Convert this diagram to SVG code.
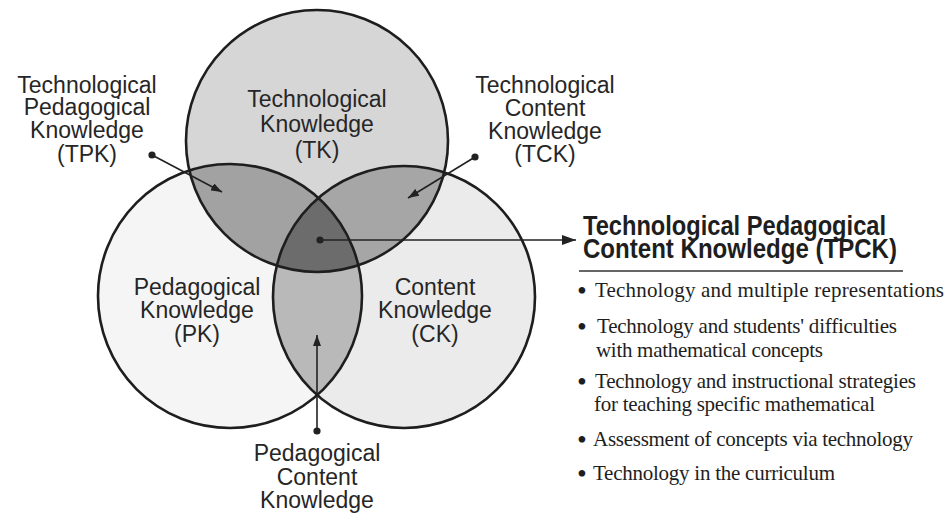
<svg xmlns="http://www.w3.org/2000/svg" width="947" height="514" viewBox="0 0 947 514">
  <style>
    .ring { fill: none; stroke: #1e1e1e; stroke-width: 2.6; }
    .lbl { font-family: "Liberation Sans", Arial, sans-serif; font-size: 23px; fill: #262626; text-anchor: middle; }
    .title { font-family: "Liberation Sans", Arial, sans-serif; font-size: 27px; font-weight: bold; fill: #1e1e1e; }
    .item { font-family: "Liberation Serif", "Times New Roman", serif; font-size: 21px; fill: #1e1e1e; }
    .bul { font-family: "Liberation Serif", "Times New Roman", serif; font-size: 28px; fill: #1e1e1e; text-anchor: middle; }
    .wire { fill: none; stroke: #222; stroke-width: 1.6; }
    .dot { fill: #222; }
  </style>
  <defs>
    <clipPath id="inTK"><circle cx="317" cy="141" r="131"/></clipPath>
    <clipPath id="inPK"><circle cx="230" cy="296" r="132"/></clipPath>
    <clipPath id="inCK"><circle cx="404" cy="297" r="131"/></clipPath>
    <marker id="head" viewBox="0 0 14 10" refX="14" refY="5" markerWidth="14" markerHeight="10" markerUnits="userSpaceOnUse" orient="auto">
      <path d="M0,0 L14,5 L0,10 Z" fill="#222"/>
    </marker>
    <marker id="headSm" viewBox="0 0 11 8" refX="11" refY="4" markerWidth="11" markerHeight="8" markerUnits="userSpaceOnUse" orient="auto">
      <path d="M0,0 L11,4 L0,8 Z" fill="#222"/>
    </marker>
  </defs>

  <rect width="947" height="514" fill="#ffffff"/>

  <!-- base discs -->
  <g id="pk-disc"><circle cx="230" cy="296" r="132" fill="#f5f5f5"/></g>
  <g id="ck-disc"><circle cx="404" cy="297" r="131" fill="#ebebeb"/></g>
  <g id="tk-disc"><circle cx="317" cy="141" r="131" fill="#d6d6d6"/></g>

  <!-- pairwise overlaps -->
  <g id="tpk-zone" clip-path="url(#inTK)"><circle cx="230" cy="296" r="132" fill="#a2a2a2"/></g>
  <g id="tck-zone" clip-path="url(#inTK)"><circle cx="404" cy="297" r="131" fill="#a6a6a6"/></g>
  <g id="pck-zone" clip-path="url(#inPK)"><circle cx="404" cy="297" r="131" fill="#b9b9b9"/></g>
  <!-- triple overlap -->
  <g id="tpck-zone" clip-path="url(#inTK)">
    <g clip-path="url(#inPK)"><circle cx="404" cy="297" r="131" fill="#6c6c6c"/></g>
  </g>

  <!-- outlines -->
  <g id="outlines">
    <circle class="ring" cx="230" cy="296" r="132"/>
    <circle class="ring" cx="404" cy="297" r="131"/>
    <circle class="ring" cx="317" cy="141" r="131"/>
  </g>

  <!-- circle labels -->
  <g id="tk">
    <text class="lbl" x="317" y="107">Technological</text>
    <text class="lbl" x="317" y="132">Knowledge</text>
    <text class="lbl" x="317" y="158">(TK)</text>
  </g>
  <g id="pk">
    <text class="lbl" x="197" y="295">Pedagogical</text>
    <text class="lbl" x="197" y="318">Knowledge</text>
    <text class="lbl" x="197" y="342">(PK)</text>
  </g>
  <g id="ck">
    <text class="lbl" x="435" y="295">Content</text>
    <text class="lbl" x="435" y="318">Knowledge</text>
    <text class="lbl" x="435" y="342">(CK)</text>
  </g>

  <!-- overlap labels -->
  <g id="tpk">
    <text class="lbl" x="87" y="93">Technological</text>
    <text class="lbl" x="87" y="115">Pedagogical</text>
    <text class="lbl" x="87" y="138">Knowledge</text>
    <text class="lbl" x="87" y="162">(TPK)</text>
  </g>
  <g id="tck">
    <text class="lbl" x="545" y="93">Technological</text>
    <text class="lbl" x="545" y="116">Content</text>
    <text class="lbl" x="545" y="139">Knowledge</text>
    <text class="lbl" x="545" y="162">(TCK)</text>
  </g>
  <g id="pck">
    <text class="lbl" x="317" y="461">Pedagogical</text>
    <text class="lbl" x="317" y="485">Content</text>
    <text class="lbl" x="317" y="508">Knowledge</text>
  </g>

  <!-- TPCK panel -->
  <g id="tpck">
    <text class="title" x="583" y="235" textLength="303" lengthAdjust="spacingAndGlyphs">Technological Pedagogical</text>
    <text class="title" x="583" y="258" textLength="314" lengthAdjust="spacingAndGlyphs">Content Knowledge (TPCK)</text>
    <line x1="579" y1="271" x2="903" y2="271" stroke="#333" stroke-width="1.6"/>
    <text class="bul" x="582" y="300">•</text>
    <text class="item" x="595" y="297" textLength="349">Technology and multiple representations</text>
    <text class="bul" x="582" y="336">•</text>
    <text class="item" x="597" y="333" textLength="300">Technology and students' difficulties</text>
    <text class="item" x="596" y="357" textLength="227">with mathematical concepts</text>
    <text class="bul" x="582" y="391">•</text>
    <text class="item" x="595" y="388" textLength="321">Technology and instructional strategies</text>
    <text class="item" x="594" y="411" textLength="281">for teaching specific mathematical</text>
    <text class="bul" x="582" y="449">•</text>
    <text class="item" x="593" y="446" textLength="320">Assessment of concepts via technology</text>
    <text class="bul" x="582" y="483">•</text>
    <text class="item" x="593" y="480" textLength="242">Technology in the curriculum</text>
  </g>

  <!-- connectors -->
  <g id="connectors">
    <line class="wire" x1="152" y1="155" x2="222" y2="192" marker-end="url(#headSm)"/>
    <circle class="dot" cx="152" cy="155" r="3.6"/>
    <line class="wire" x1="475" y1="157" x2="408" y2="198" marker-end="url(#headSm)"/>
    <circle class="dot" cx="475" cy="157" r="3.6"/>
    <line class="wire" x1="317" y1="431" x2="317" y2="335" marker-end="url(#headSm)"/>
    <circle class="dot" cx="317" cy="431" r="3.6"/>
    <line class="wire" x1="320" y1="240" x2="576" y2="240" marker-end="url(#head)"/>
    <circle class="dot" cx="320" cy="240" r="3.6"/>
  </g>
</svg>
